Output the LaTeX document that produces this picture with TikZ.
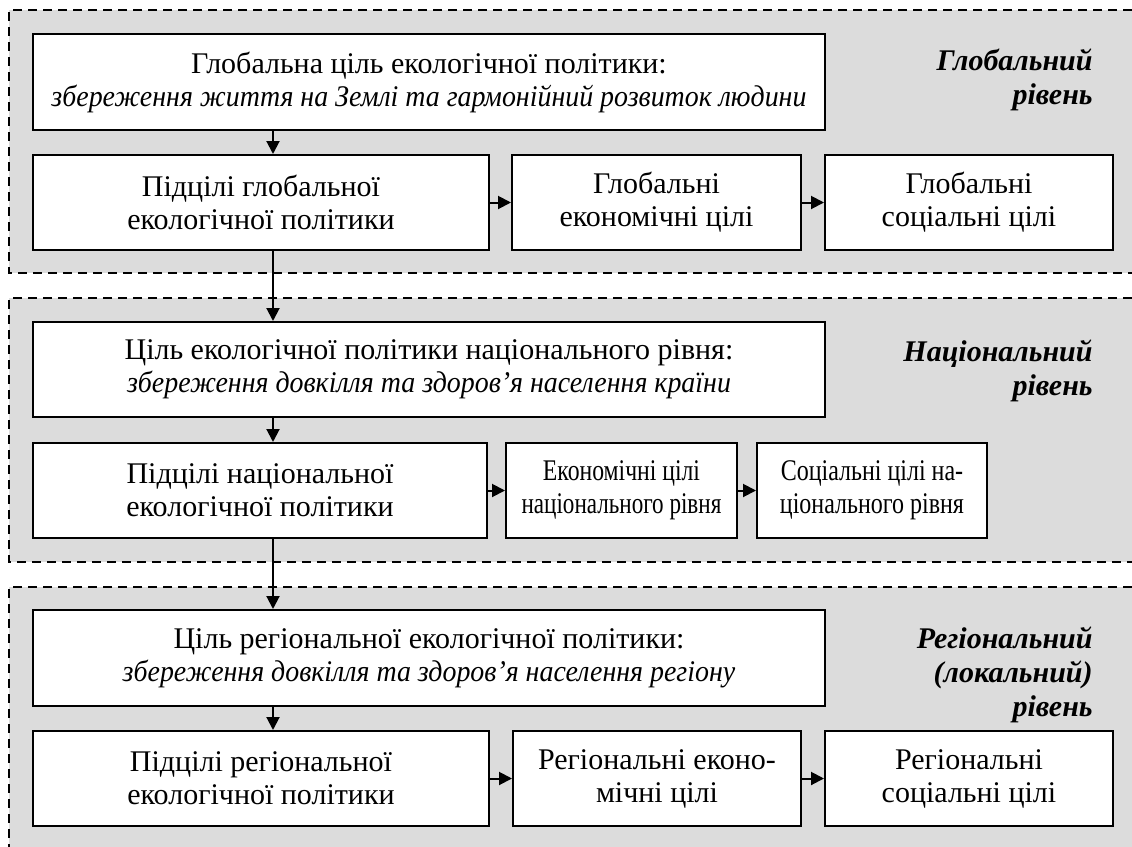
\documentclass[tikz,border=0pt]{standalone}
\usepackage{graphicx}
\usepackage{fontspec}
\setmainfont{Liberation Serif}
\usetikzlibrary{arrows.meta}
\definecolor{panelgray}{RGB}{220,220,220}
% horizontally condensed text
\newcommand{\hsqueeze}[2]{\scalebox{#1}[1]{#2}}
\tikzset{
  goalbox/.style={draw=black, line width=1pt, fill=white, inner sep=0pt,
    align=center, font=\fontsize{15}{16.5}\selectfont},
  paneledge/.style={draw=black, line width=0.8pt, dash pattern=on 4.5pt off 3pt},
  flow/.style={-{Triangle[length=6.5pt,width=6.5pt]}, line width=1pt},
  levellabel/.style={anchor=east, align=right, inner sep=0pt,
    font=\fontsize{15}{17}\selectfont\bfseries\itshape}
}
\begin{document}
\begin{tikzpicture}[x=0.5pt,y=-0.5pt]
\useasboundingbox (0,0) rectangle (1132,847);

% level panels (open on the right, the last one also at the bottom)
\fill[panelgray] (9,10) rectangle (1132,273);
\draw[paneledge] (1132,10) -- (9,10) -- (9,273) -- (1132,273);
\fill[panelgray] (9,298) rectangle (1132,562);
\draw[paneledge] (1132,298) -- (9,298) -- (9,562) -- (1132,562);
\fill[panelgray] (9,587) rectangle (1132,847);
\draw[paneledge] (1132,587) -- (9,587) -- (9,847);

% vertical spine of the arrows
\coordinate (spine) at (273,0);

% global level
\node[goalbox, minimum width=396pt, minimum height=48pt] (g1) at (429,82)
  {Глобальна ціль екологічної політики:\\
   \hsqueeze{0.93}{\itshape збереження життя на Землі та гармонійний розвиток людини}};
\node[goalbox, minimum width=228pt, minimum height=47.5pt] (g2) at (261,202.5)
  {Підцілі глобальної\\екологічної політики};
\node[goalbox, minimum width=144.5pt, minimum height=47.5pt] (g3) at (656.5,202.5)
  {Глобальні\\економічні цілі};
\node[goalbox, minimum width=144pt, minimum height=47.5pt] (g4) at (969,202.5)
  {Глобальні\\соціальні цілі};
\node[levellabel] (gl) at (1093,80) {Глобальний\\рівень};

% national level
\node[goalbox, minimum width=396pt, minimum height=47.5pt] (n1) at (429,369.5)
  {Ціль екологічної політики національного рівня:\\
   \hsqueeze{0.93}{\itshape збереження довкілля та здоров’я населення країни}};
\node[goalbox, minimum width=227pt, minimum height=47.5pt] (n2) at (260,490.5)
  {Підцілі національної\\екологічної політики};
\node[goalbox, minimum width=115.5pt, minimum height=47.5pt] (n3) at (621.5,490.5)
  {\hsqueeze{0.79}{Економічні цілі}\\\hsqueeze{0.77}{національного рівня}};
\node[goalbox, minimum width=115pt, minimum height=47.5pt] (n4) at (872,490.5)
  {\hsqueeze{0.8}{Соціальні цілі на-}\\\hsqueeze{0.8}{ціонального рівня}};
\node[levellabel] (nl) at (1093,371) {Національний\\рівень};

% regional level
\node[goalbox, minimum width=396pt, minimum height=48pt] (r1) at (429,658)
  {Ціль регіональної екологічної політики:\\
   \hsqueeze{0.93}{\itshape збереження довкілля та здоров’я населення регіону}};
\node[goalbox, minimum width=228pt, minimum height=47.5pt] (r2) at (261,778.5)
  {Підцілі регіональної\\екологічної політики};
\node[goalbox, minimum width=144pt, minimum height=47.5pt] (r3) at (657,778.5)
  {Регіональні еконо-\\мічні цілі};
\node[goalbox, minimum width=144pt, minimum height=47.5pt] (r4) at (969,778.5)
  {Регіональні\\соціальні цілі};
\node[levellabel] (rl) at (1093,675) {Регіональний\\(локальний)\\рівень};

% connectors
\draw[flow] (g1.south -| spine) -- (g2.north -| spine);
\draw[flow] (g2.east) -- (g3.west);
\draw[flow] (g3.east) -- (g4.west);
\draw[flow] (g2.south -| spine) -- (n1.north -| spine);
\draw[flow] (n1.south -| spine) -- (n2.north -| spine);
\draw[flow] (n2.east) -- (n3.west);
\draw[flow] (n3.east) -- (n4.west);
\draw[flow] (n2.south -| spine) -- (r1.north -| spine);
\draw[flow] (r1.south -| spine) -- (r2.north -| spine);
\draw[flow] (r2.east) -- (r3.west);
\draw[flow] (r3.east) -- (r4.west);
\end{tikzpicture}
\end{document}
